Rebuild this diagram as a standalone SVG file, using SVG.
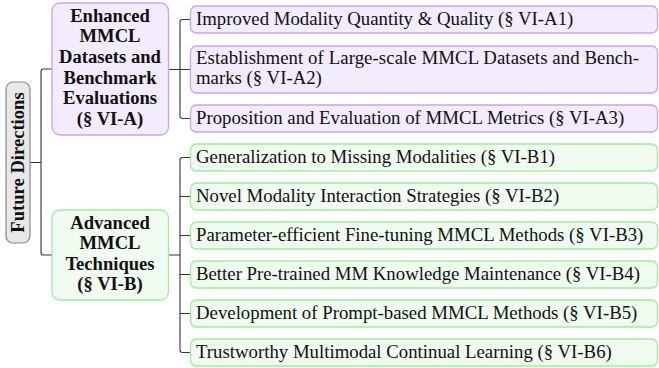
<svg xmlns="http://www.w3.org/2000/svg" width="659" height="368" viewBox="0 0 659 368">
<style>
.t{font-family:"Liberation Serif","Times New Roman",serif;font-size:18.8px;fill:#111}
.b{font-family:"Liberation Serif","Times New Roman",serif;font-size:18.6px;font-weight:bold;fill:#111;text-anchor:middle}
.root{fill:#e8e8e8;stroke:#8a8a8a;stroke-width:1.2}
.pa{fill:#f3ecfc;stroke:#c9a3ee;stroke-width:1.3}
.gr{fill:#effcef;stroke:#a3e9a0;stroke-width:1.3}
.c{fill:none;stroke:#333;stroke-width:1.1}
</style>
<g id="connectors">
<path class="c" d="M30,162.5 H41 M52,69 H43.5 Q41,69 41,71.5 V252.5 Q41,255 43.5,255 H52"/>
<path class="c" d="M168.5,69.5 H190.5 M190.5,19.5 H182.5 Q180,19.5 180,22 V116 Q180,118.5 182.5,118.5 H190.5"/>
<path class="c" d="M168.5,255 H180 M190.5,157.5 H182.5 Q180,157.5 180,160 V350 Q180,352.5 182.5,352.5 H190.5 M180,196.5 H190.5 M180,235.5 H190.5 M180,274.5 H190.5 M180,313.5 H190.5"/>
</g>
<g id="root">
<rect class="root" x="6" y="82" width="24" height="161" rx="7"/>
<text class="b" transform="translate(24,162.5) rotate(-90)" x="0" y="0">Future Directions</text>
</g>
<g id="nodeA">
<rect class="pa" x="52" y="3" width="116.5" height="132" rx="8"/>
<text class="b" x="110" y="21.5">Enhanced</text>
<text class="b" x="110" y="42.2">MMCL</text>
<text class="b" x="110" y="62.9">Datasets and</text>
<text class="b" x="110" y="83.6">Benchmark</text>
<text class="b" x="110" y="104.3">Evaluations</text>
<text class="b" x="110" y="125">(§ VI-A)</text>
</g>
<g id="nodeB">
<rect class="gr" x="52" y="210" width="116.5" height="90" rx="8"/>
<text class="b" x="110" y="228.5">Advanced</text>
<text class="b" x="110" y="249">MMCL</text>
<text class="b" x="110" y="269.5">Techniques</text>
<text class="b" x="110" y="290">(§ VI-B)</text>
</g>
<g id="A1">
<rect class="pa" x="190.5" y="6" width="467" height="27" rx="6"/>
<text class="t" x="196" y="25">Improved Modality Quantity &amp; Quality (§ VI-A1)</text>
</g>
<g id="A2">
<rect class="pa" x="190.5" y="46" width="467" height="47" rx="6"/>
<text class="t" x="196" y="64" textLength="443" lengthAdjust="spacing">Establishment of Large-scale MMCL Datasets and Bench-</text>
<text class="t" x="196" y="84">marks (§ VI-A2)</text>
</g>
<g id="A3">
<rect class="pa" x="190.5" y="105" width="467" height="27" rx="6"/>
<text class="t" x="196" y="124">Proposition and Evaluation of MMCL Metrics (§ VI-A3)</text>
</g>
<g id="B1">
<rect class="gr" x="190.5" y="144" width="467" height="27" rx="6"/>
<text class="t" x="196" y="163">Generalization to Missing Modalities (§ VI-B1)</text>
</g>
<g id="B2">
<rect class="gr" x="190.5" y="183" width="467" height="27" rx="6"/>
<text class="t" x="196" y="202">Novel Modality Interaction Strategies (§ VI-B2)</text>
</g>
<g id="B3">
<rect class="gr" x="190.5" y="222" width="467" height="27" rx="6"/>
<text class="t" x="196" y="241">Parameter-efficient Fine-tuning MMCL Methods (§ VI-B3)</text>
</g>
<g id="B4">
<rect class="gr" x="190.5" y="261" width="467" height="27" rx="6"/>
<text class="t" x="196" y="280">Better Pre-trained MM Knowledge Maintenance (§ VI-B4)</text>
</g>
<g id="B5">
<rect class="gr" x="190.5" y="300" width="467" height="27" rx="6"/>
<text class="t" x="196" y="319">Development of Prompt-based MMCL Methods (§ VI-B5)</text>
</g>
<g id="B6">
<rect class="gr" x="190.5" y="339" width="467" height="27" rx="6"/>
<text class="t" x="196" y="358">Trustworthy Multimodal Continual Learning (§ VI-B6)</text>
</g>
</svg>
